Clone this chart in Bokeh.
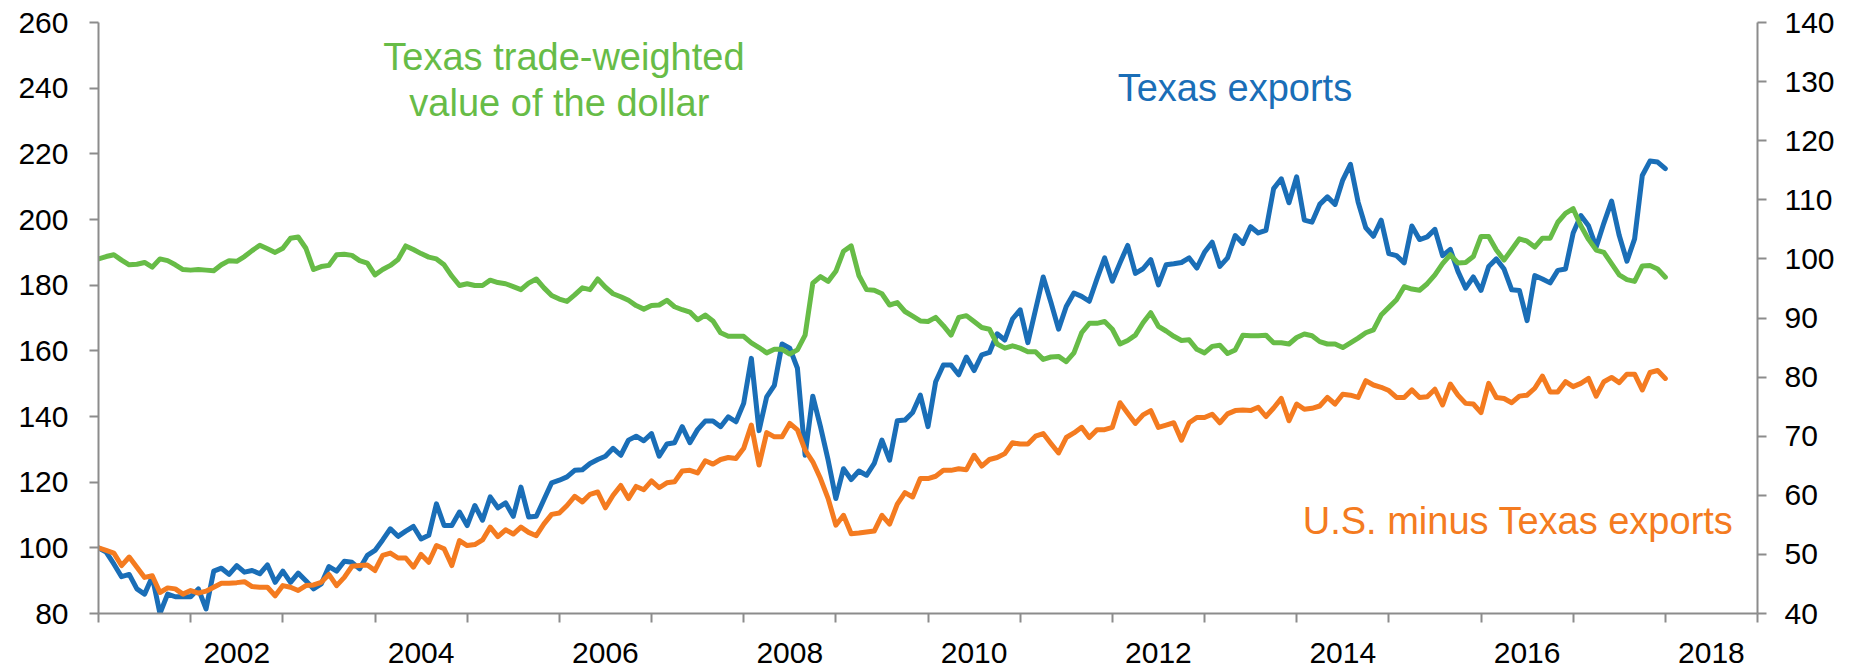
import pandas as pd
from bokeh.plotting import figure
from bokeh.models import (Range1d, LinearAxis, FixedTicker, CustomJSTickFormatter,
                          ColumnDataSource, Label)
from bokeh.embed import file_html
from bokeh.resources import INLINE

# ---------------- data (monthly, Jan 2001 onward) ----------------
start_month = "2001-01-01"

# Texas exports, index (left axis)
texas_exports = [
    100.0, 98.7, 95.1, 91.2, 91.9, 87.5, 85.9, 91.2, 80.0, 85.9, 85.1, 85.1,
    85.1, 87.5, 81.4, 92.9, 93.8, 91.9, 94.6, 92.6, 93.1, 92.1, 94.8, 89.5,
    92.9, 89.5, 92.3, 90.0, 87.5, 89.0, 94.3, 92.9, 95.9, 95.6, 93.6, 97.7,
    99.2, 102.4, 105.8, 103.5, 105.1, 106.5, 102.7, 103.8, 113.4, 106.8, 106.8, 110.9,
    106.8, 112.9, 108.4, 115.5, 112.2, 113.7, 109.6, 118.5, 109.4, 109.6, 114.7, 119.8,
    120.6, 121.6, 123.6, 123.8, 125.7, 126.9, 127.9, 130.3, 128.2, 132.8, 134.0, 132.6,
    134.8, 127.9, 131.6, 132.0, 136.9, 132.0, 136.0, 138.6, 138.6, 136.9, 139.9, 138.4,
    144.0, 157.7, 135.7, 146.0, 149.5, 162.1, 160.8, 154.7, 128.2, 146.2, 136.9, 126.7,
    115.0, 124.1, 120.8, 123.4, 122.1, 125.7, 132.8, 126.7, 138.7, 138.9, 141.2, 146.5,
    136.9, 150.6, 155.7, 155.7, 152.7, 158.1, 154.0, 158.8, 159.5, 165.2, 163.3, 169.7,
    172.5, 162.5, 172.5, 182.5, 174.8, 166.6, 173.5, 177.6, 176.6, 175.1, 181.9, 188.3,
    181.2, 186.8, 192.1, 183.6, 185.0, 187.8, 180.1, 186.2, 186.5, 186.9, 188.3, 185.2,
    190.0, 193.1, 185.7, 188.3, 195.1, 192.7, 197.8, 195.9, 196.7, 209.4, 212.4, 205.1,
    213.0, 199.8, 199.2, 204.6, 206.9, 204.6, 212.0, 216.8, 205.3, 197.5, 194.9, 199.8,
    189.6, 189.0, 186.8, 198.0, 193.9, 194.7, 197.0, 189.0, 190.9, 184.2, 179.1, 182.5,
    178.4, 185.7, 188.0, 184.9, 178.6, 178.4, 169.2, 182.9, 181.9, 180.7, 184.5, 184.9,
    195.9, 201.2, 198.1, 191.6, 198.9, 205.6, 195.1, 187.3, 194.1, 213.4, 217.8, 217.5,
    215.5,
]

# U.S. minus Texas exports, index (left axis)
us_minus_texas = [
    100.0, 99.2, 98.4, 94.6, 97.2, 94.1, 91.0, 91.5, 86.4, 87.8, 87.5, 85.9,
    87.0, 86.2, 86.8, 88.0, 89.2, 89.2, 89.4, 89.7, 88.2, 88.0, 88.0, 85.4,
    88.5, 88.0, 87.0, 88.5, 88.7, 89.5, 91.9, 88.5, 91.0, 94.4, 94.6, 94.8,
    93.1, 97.7, 98.4, 96.9, 96.9, 94.1, 98.0, 95.6, 100.7, 99.7, 94.6, 102.2,
    100.7, 101.0, 102.4, 106.3, 103.4, 105.5, 104.2, 106.3, 104.7, 103.7, 107.3, 110.2,
    110.6, 112.9, 115.7, 114.0, 116.3, 117.0, 112.2, 116.0, 119.0, 115.0, 118.7, 117.7,
    120.4, 118.3, 119.8, 120.1, 123.4, 123.6, 122.8, 126.5, 125.5, 126.9, 127.5, 127.2,
    130.3, 137.4, 125.2, 135.1, 133.8, 133.8, 137.9, 135.9, 129.8, 126.2, 121.1, 115.0,
    106.9, 109.9, 104.3, 104.5, 104.8, 105.1, 109.9, 107.2, 113.3, 116.8, 115.5, 121.1,
    121.1, 121.8, 123.6, 123.6, 124.1, 123.8, 128.2, 124.9, 126.9, 127.5, 128.7, 132.0,
    131.6, 131.6, 134.0, 134.8, 131.8, 128.9, 133.6, 135.0, 136.7, 133.6, 136.0, 136.0,
    136.7, 144.2, 141.0, 137.9, 140.5, 141.8, 136.7, 137.4, 138.1, 132.8, 138.1, 139.7,
    139.7, 140.7, 138.1, 140.8, 141.8, 142.0, 141.8, 142.8, 140.0, 142.6, 145.5, 138.7,
    143.8, 142.2, 142.5, 143.2, 145.8, 143.8, 146.8, 146.5, 145.8, 150.9, 149.6, 148.9,
    147.9, 145.8, 145.8, 148.1, 145.8, 146.0, 148.3, 143.5, 149.9, 146.5, 144.0, 143.8,
    141.2, 150.1, 145.8, 145.5, 144.2, 146.2, 146.5, 148.6, 152.3, 147.5, 147.5, 150.6,
    149.1, 150.1, 151.6, 146.2, 150.6, 151.9, 150.3, 152.9, 152.9, 148.1, 153.4, 154.0,
    151.6,
]

# Texas trade-weighted value of the dollar (right axis)
texas_dollar = [
    100.0, 100.4, 100.7, 99.8, 99.0, 99.1, 99.4, 98.6, 100.0, 99.7, 99.0, 98.2,
    98.1, 98.2, 98.1, 98.0, 99.0, 99.7, 99.6, 100.4, 101.4, 102.3, 101.7, 101.1,
    101.8, 103.5, 103.7, 101.8, 98.2, 98.7, 98.9, 100.7, 100.8, 100.6, 99.7, 99.3,
    97.3, 98.2, 98.9, 99.9, 102.2, 101.6, 100.9, 100.3, 100.0, 99.0, 97.1, 95.5,
    95.8, 95.5, 95.5, 96.4, 96.0, 95.8, 95.3, 94.8, 95.9, 96.6, 95.1, 93.8,
    93.2, 92.8, 93.9, 95.1, 94.8, 96.6, 95.2, 94.1, 93.6, 93.0, 92.1, 91.5,
    92.1, 92.2, 93.0, 91.9, 91.4, 91.0, 89.7, 90.5, 89.5, 87.5, 86.9, 86.9,
    86.9, 85.8, 85.0, 84.1, 84.7, 84.7, 83.9, 84.6, 87.1, 95.9, 97.0, 96.2,
    97.9, 101.3, 102.2, 97.2, 94.8, 94.7, 94.1, 92.2, 92.6, 91.1, 90.3, 89.5,
    89.4, 90.1, 88.7, 87.1, 90.1, 90.4, 89.4, 88.4, 88.1, 85.6, 84.9, 85.3,
    84.9, 84.3, 84.3, 83.0, 83.4, 83.5, 82.6, 84.1, 87.5, 89.1, 89.1, 89.4,
    88.1, 85.6, 86.2, 87.1, 89.2, 90.9, 88.6, 87.8, 86.9, 86.2, 86.3, 84.7,
    84.1, 85.2, 85.4, 84.0, 84.6, 87.1, 87.0, 87.0, 87.1, 85.8, 85.8, 85.6,
    86.7, 87.3, 87.0, 86.0, 85.6, 85.6, 85.0, 85.8, 86.6, 87.5, 88.0, 90.5,
    91.8, 93.1, 95.3, 94.9, 94.7, 95.8, 97.3, 99.2, 100.7, 99.3, 99.4, 100.4,
    103.8, 103.8, 101.5, 99.8, 101.6, 103.4, 103.0, 102.0, 103.5, 103.5, 106.2, 107.7,
    108.5, 105.6, 103.3, 101.5, 101.1, 99.2, 97.3, 96.5, 96.2, 98.8, 98.9, 98.3,
    96.9,
]

left_ticks = [80, 100, 120, 140, 160, 180, 200, 220, 240, 260]
right_ticks = [40, 50, 60, 70, 80, 90, 100, 110, 120, 130, 140]
year_bounds = list(range(2001, 2020))
year_labels = [2002, 2004, 2006, 2008, 2010, 2012, 2014, 2016, 2018]

# ---------------- build ----------------
dates = pd.date_range(start_month, periods=len(texas_exports), freq="MS")
xfrac = [d.year + (d.month - 1) / 12.0 for d in dates]
src = ColumnDataSource(dict(x=xfrac, tx=texas_exports, us=us_minus_texas, dol=texas_dollar))

BLUE = "#1A6EB7"
GREEN = "#67BC47"
ORANGE = "#F47B20"
AXIS = "#8C8C8C"
FONT = "Liberation Sans"

p = figure(width=1855, height=671, output_backend="svg", toolbar_location=None,
           x_range=Range1d(2001, 2019), y_range=Range1d(80, 260),
           min_border_left=98, min_border_right=98, min_border_top=22, min_border_bottom=58)
p.outline_line_color = None
p.xgrid.visible = False
p.ygrid.visible = False
p.background_fill_color = "white"
p.border_fill_color = "white"

p.extra_y_ranges = {"dollar": Range1d(40, 140)}

# x axis: tick marks at year boundaries, labels centred in every other year
xax = p.xaxis[0]
xax.ticker = FixedTicker(ticks=[y + 0.5 for y in year_labels], minor_ticks=year_bounds)
xax.formatter = CustomJSTickFormatter(code="return String(Math.floor(tick));")
xax.major_tick_line_color = None
xax.major_tick_out = 9
xax.major_tick_in = 0
xax.minor_tick_out = 9
xax.minor_tick_in = 0
xax.minor_tick_line_color = AXIS
xax.minor_tick_line_width = 2
xax.axis_line_color = AXIS
xax.axis_line_width = 2
xax.major_label_standoff = 20
xax.major_label_text_font = FONT
xax.major_label_text_font_size = "30px"
xax.major_label_text_color = "black"

yax = p.yaxis[0]
yax.ticker = FixedTicker(ticks=left_ticks)
yax.minor_tick_line_color = None
yax.major_tick_out = 9
yax.major_tick_in = 0
yax.major_tick_line_color = AXIS
yax.major_tick_line_width = 2
yax.axis_line_color = AXIS
yax.axis_line_width = 2
yax.major_label_standoff = 21
yax.major_label_text_font = FONT
yax.major_label_text_font_size = "30px"
yax.major_label_text_color = "black"

rax = LinearAxis(y_range_name="dollar", ticker=FixedTicker(ticks=right_ticks))
rax.minor_tick_line_color = None
rax.major_tick_out = 9
rax.major_tick_in = 0
rax.major_tick_line_color = AXIS
rax.major_tick_line_width = 2
rax.axis_line_color = AXIS
rax.axis_line_width = 2
rax.major_label_standoff = 18
rax.major_label_text_font = FONT
rax.major_label_text_font_size = "30px"
rax.major_label_text_color = "black"
p.add_layout(rax, "right")

lw = 5
p.line("x", "tx", source=src, line_color=BLUE, line_width=lw, line_join="round", line_cap="round")
p.line("x", "us", source=src, line_color=ORANGE, line_width=lw, line_join="round", line_cap="round")
p.line("x", "dol", source=src, line_color=GREEN, line_width=lw, line_join="round", line_cap="round",
       y_range_name="dollar")

def add_label(text, x, y, color, align="center"):
    p.add_layout(Label(x=x, y=y, text=text, text_color=color, text_font=FONT,
                       text_font_size="38px", text_align=align, text_baseline="middle"))

add_label("Texas trade-weighted", 2006.05, 249.4, GREEN)
add_label("value of the dollar", 2006.0, 235.6, GREEN)
add_label("Texas exports", 2013.33, 240.1, BLUE)
add_label("U.S. minus Texas exports", 2018.74, 108.1, ORANGE, align="right")

open("out.html", "w").write(file_html(p, INLINE))
